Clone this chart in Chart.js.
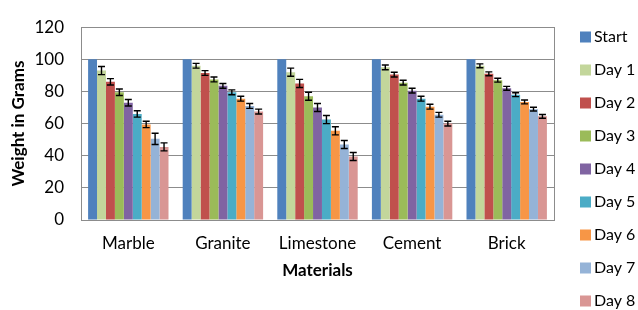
<!DOCTYPE html>
<html>
<head>
<meta charset="utf-8">
<script src="https://cdn.jsdelivr.net/npm/chart.js@4/dist/chart.umd.min.js"></script>
<style>
  html, body { margin: 0; padding: 0; background: #fff; }
  #wrap { width: 638px; height: 310px; }
</style>
</head>
<body>
<div id="wrap"><canvas id="weightChart" width="638" height="310"></canvas></div>
<script>
const materials = ['Marble', 'Granite', 'Limestone', 'Cement', 'Brick'];
const dayLabels = ['Start', 'Day 1', 'Day 2', 'Day 3', 'Day 4', 'Day 5', 'Day 6', 'Day 7', 'Day 8'];
const dayColors = ['#4F81BD', '#C3D69B', '#C0504D', '#9BBB59', '#8064A2', '#4BACC6', '#F79646', '#95B3D7', '#D99694'];

// weight per material for each day (rows = day, cols = material)
const startW = [100, 100, 100, 100, 100];
const day1W  = [93, 96, 92, 95, 96];
const day2W  = [86, 91.5, 85, 90.5, 91];
const day3W  = [79.5, 87.5, 77, 85.5, 87];
const day4W  = [73, 83.5, 70, 80.5, 82];
const day5W  = [66, 79.5, 62.5, 75.5, 78];
const day6W  = [59.5, 75.5, 55.5, 70.5, 73.5];
const day7W  = [50.5, 71, 47, 65.5, 69];
const day8W  = [45.5, 67.5, 39.5, 60, 64.5];

const startErr = [0, 0, 0, 0, 0];
const day1Err  = [2.5, 1.5, 2.5, 1.5, 1.2];
const day2Err  = [2, 1.5, 2.5, 1.5, 1.2];
const day3Err  = [2, 1.5, 2.5, 1.5, 1.2];
const day4Err  = [2, 1.5, 2.5, 1.5, 1.2];
const day5Err  = [2, 1.5, 2.5, 1.5, 1.2];
const day6Err  = [2, 1.5, 2.5, 1.5, 1.2];
const day7Err  = [3.5, 1.5, 2.5, 1.5, 1.2];
const day8Err  = [2.5, 1.5, 2.5, 1.5, 1.2];

const allW = [startW, day1W, day2W, day3W, day4W, day5W, day6W, day7W, day8W];
const allErr = [startErr, day1Err, day2Err, day3Err, day4Err, day5Err, day6Err, day7Err, day8Err];

const FONT = 'Lato, "Open Sans", sans-serif';

const errorBars = {
  id: 'errorBars',
  afterDatasetsDraw(chart) {
    const ctx = chart.ctx;
    const y = chart.scales.y;
    ctx.save();
    ctx.strokeStyle = '#000';
    ctx.lineWidth = 1.4;
    chart.data.datasets.forEach((ds, i) => {
      chart.getDatasetMeta(i).data.forEach((bar, j) => {
        const e = ds.errors[j];
        if (!e) return;
        const v = ds.data[j];
        const y1 = y.getPixelForValue(v + e), y2 = y.getPixelForValue(v - e);
        const x = bar.x;
        ctx.beginPath();
        ctx.moveTo(x, y1); ctx.lineTo(x, y2);
        ctx.moveTo(x - 3.5, y1); ctx.lineTo(x + 3.5, y1);
        ctx.moveTo(x - 3.5, y2); ctx.lineTo(x + 3.5, y2);
        ctx.stroke();
      });
    });
    ctx.restore();
  }
};

const plotFrame = {
  id: 'plotFrame',
  beforeDatasetsDraw(chart) {
    const a = chart.chartArea, ctx = chart.ctx;
    ctx.save();
    ctx.strokeStyle = '#8c8c8c';
    ctx.lineWidth = 1;
    ctx.strokeRect(Math.round(a.left) + 0.5, Math.round(a.top) + 0.5, Math.round(a.right - a.left), Math.round(a.bottom - a.top));
    ctx.restore();
  }
};

const sideLegend = {
  id: 'sideLegend',
  afterDraw(chart) {
    const ctx = chart.ctx;
    ctx.save();
    ctx.font = '16px ' + FONT;
    ctx.textBaseline = 'middle';
    chart.data.datasets.forEach((ds, i) => {
      const cy = 37 + i * 33;
      ctx.fillStyle = ds.backgroundColor;
      ctx.fillRect(580, cy - 5.5, 11, 11);
      ctx.fillStyle = '#000';
      ctx.fillText(ds.label, 594, cy);
    });
    ctx.restore();
  }
};

new Chart(document.getElementById('weightChart'), {
  type: 'bar',
  data: {
    labels: materials,
    datasets: dayLabels.map((lab, i) => ({
      label: lab,
      data: allW[i],
      errors: allErr[i],
      backgroundColor: dayColors[i],
      borderWidth: 0,
      categoryPercentage: 0.85,
      barPercentage: 1.0
    }))
  },
  options: {
    responsive: false,
    animation: false,
    layout: { padding: { top: 20, right: 84, left: 0, bottom: 25 } },
    plugins: {
      legend: { display: false },
      tooltip: { enabled: false }
    },
    scales: {
      x: {
        grid: { display: false },
        border: { color: '#8c8c8c' },
        ticks: { color: '#000', font: { family: FONT, size: 17 }, padding: 5 },
        title: { display: true, text: 'Materials', color: '#000', font: { family: FONT, size: 17, weight: 'bold' }, padding: { top: 4, bottom: 4 } },
        afterFit(s) { s.height = 65; }
      },
      y: {
        min: 0, max: 120,
        ticks: { stepSize: 20, color: '#000', font: { family: FONT, size: 17 }, padding: 17 },
        grid: { color: '#8c8c8c', tickLength: 0 },
        border: { color: '#8c8c8c' },
        title: { display: true, text: 'Weight in Grams', color: '#000', font: { family: FONT, size: 17, weight: 'bold' }, padding: { top: 8, bottom: 4 } },
        afterFit(s) { s.width = 81; }
      }
    }
  },
  plugins: [plotFrame, errorBars, sideLegend]
});
</script>
</body>
</html>
